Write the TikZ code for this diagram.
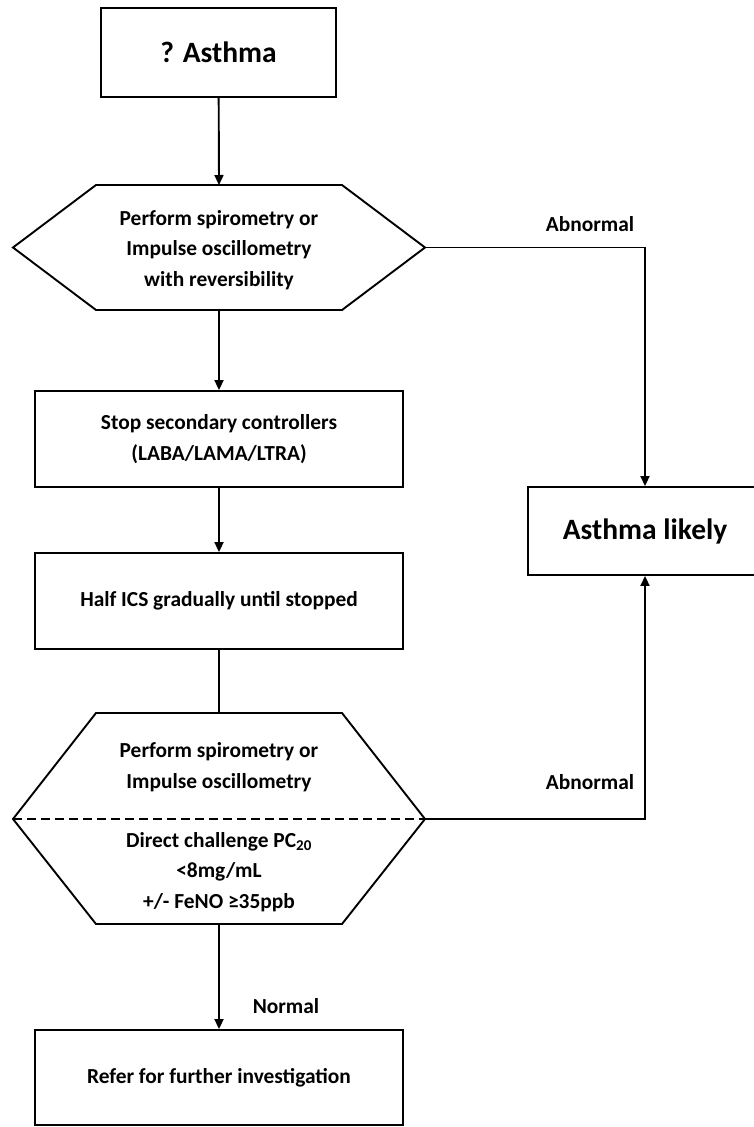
\documentclass[tikz,border=0pt]{standalone}
\usepackage{fontspec}
\setmainfont{Carlito}
\usetikzlibrary{positioning,arrows.meta}

\tikzset{
  line/.style={line width=1.9pt},
  arr/.style={line, -{Triangle[length=10pt,width=9pt]}},
  txt/.style={align=center, font=\bfseries\fontsize{21.4}{30.5}\selectfont},
  box/.style={draw, line, txt, minimum width=368pt, minimum height=96pt, inner sep=0pt},
  bigbox/.style={box, font=\bfseries\fontsize{29.5}{32}\selectfont}
}

\begin{document}
\begin{tikzpicture}[x=1pt,y=-1pt]
	\useasboundingbox (0,0) rectangle (754,1127);
	% boxes
	\node[bigbox, minimum width=235pt, minimum height=89pt] (q) at (218.5,52.5) {? Asthma};
	\node[box] (stop) at (219,439) {Stop secondary controllers\\(LABA/LAMA/LTRA)};
	\node[box] (half) at (219,601) {Half ICS gradually until stopped};
	\node[box, minimum height=95pt] (refer) at (219,1077.5) {Refer for further investigation};
	\node[box, minimum width=300pt, minimum height=88pt] (likely) at (678,531) {};
	\node[bigbox, draw=none, minimum width=0pt, minimum height=0pt] (likelytxt) at (645,531) {Asthma likely};
	% hexagons
	\draw[line] (13,247.5) coordinate (h1w) -- (96,185) -- (342,185) -- (425,247.5) coordinate (h1e) -- (342,310) -- (96,310) -- cycle;
	\coordinate (h1n) at (219,185);
	\coordinate (h1s) at (219,310);
	\node[txt] (spiro1) at (219,250) {Perform spirometry or\\Impulse oscillometry\\with reversibility};
	\draw[line] (13,819) coordinate (h2w) -- (96,713) -- (342,713) -- (425,819) coordinate (h2e) -- (342,924) -- (96,924) -- cycle;
	\coordinate (h2n) at (219,713);
	\coordinate (h2s) at (219,924);
	\draw[line, dash pattern=on 9pt off 5pt] (h2w) -- (h2e);
	\node[txt] (spiro2) at (219,767) {Perform spirometry or\\Impulse oscillometry};
	\node[txt] (chal) at (219,872) {Direct challenge PC\textsubscript{20}\\<8mg/mL\\+/- FeNO ≥35ppb};
	% connectors
	\draw[arr] (q) -- (h1n);
	\draw[arr] (h1s) -- (stop);
	\draw[arr] (stop) -- (half);
	\draw[line] (half) -- (h2n);
	\draw[arr] (h2s) -- (refer);
	\draw[arr] (h1e) -| (likely.north -| likelytxt);
	\draw[arr] (h2e) -| (likely.south -| likelytxt);
	% labels
	\node[txt] (ab1) at (590,224) {Abnormal};
	\node[txt] (ab2) at (590,782) {Abnormal};
	\node[txt] (norm) at (286,1006) {Normal};
\end{tikzpicture}
\end{document}
